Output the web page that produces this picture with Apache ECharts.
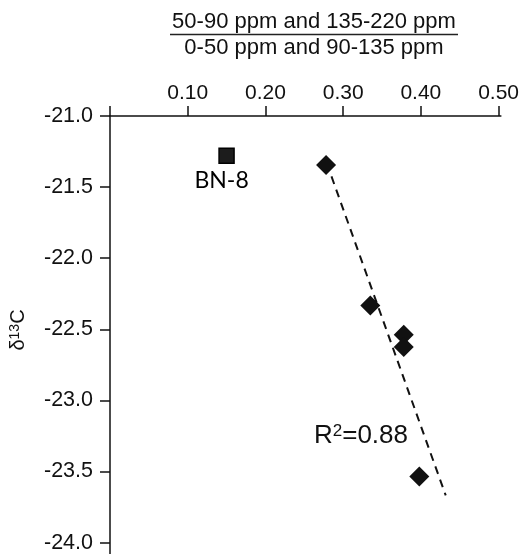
<!DOCTYPE html>
<html><head><meta charset="utf-8">
<script src="https://cdn.jsdelivr.net/npm/echarts@6/dist/echarts.min.js"></script>
<style>html,body{margin:0;padding:0;background:#fff}#c{width:522px;height:554px}</style>
</head><body><div id="c"></div>
<script>
const xTicks = [0, 0.1, 0.2, 0.3, 0.4, 0.5];
const yTicks = [-24.0, -23.5, -23.0, -22.5, -22.0, -21.5, -21.0];
const sampleX = [0.278, 0.335, 0.378, 0.378, 0.398];
const sampleY = [-21.345, -22.333, -22.539, -22.625, -23.535];
const outlierName = 'BN-8';
const outlierX = [0.150];
const outlierY = [-21.28];
const trendX = [0.285, 0.432];
const trendY = [-21.425, -23.668];
const r2Value = '0.88';
const titleTop = '50-90 ppm and 135-220 ppm';
const titleBottom = '0-50 ppm and 90-135 ppm';

const zip = (a, b) => a.map((v, i) => [v, b[i]]);
const AX = '#111';
const TXT = '#111';
const FONT = '"Liberation Sans", Arial, sans-serif';

const chart = echarts.init(document.getElementById('c'), null, {renderer: 'canvas'});
chart.setOption({
  animation: false,
  backgroundColor: '#fff',
  grid: {left: 109.5, top: 116, right: 11.6, bottom: 0, containLabel: false},
  xAxis: {
    type: 'value', position: 'top', min: 0, max: 0.503,
    axisLine: {onZero: false, lineStyle: {color: AX, width: 1.5}},
    axisTick: {show: true, length: 10, customValues: xTicks, lineStyle: {color: AX, width: 1.5}},
    axisLabel: {customValues: xTicks, margin: 12, fontFamily: FONT, fontSize: 21, color: TXT,
      formatter: v => (Math.abs(v) < 1e-9 ? '' : v.toFixed(2))},
    splitLine: {show: false}
  },
  yAxis: {
    type: 'value', min: -24.08, max: -21,
    name: '{a|δ}{s|13}{a|C}', nameLocation: 'middle', nameRotate: 90, nameGap: 82,
    nameTextStyle: {padding: [0, 0, 0, 10], rich: {
      a: {fontFamily: FONT, fontSize: 20, color: TXT},
      s: {fontFamily: FONT, fontSize: 14, color: TXT, verticalAlign: 'top'}
    }},
    axisLine: {onZero: false, lineStyle: {color: AX, width: 1.5}},
    axisTick: {show: true, length: 10, customValues: yTicks, lineStyle: {color: AX, width: 1.5}},
    axisLabel: {customValues: yTicks, margin: 17, fontFamily: FONT, fontSize: 21.5, color: TXT,
      formatter: v => v.toFixed(1)},
    splitLine: {show: false}
  },
  graphic: [
    {type: 'text', x: 314, y: 22, style: {text: titleTop, font: '22px ' + FONT, fill: TXT,
      align: 'center', verticalAlign: 'middle', textAlign: 'center', textVerticalAlign: 'middle'}},
    {type: 'line', shape: {x1: 170, y1: 34.5, x2: 458, y2: 34.5}, style: {stroke: '#222', lineWidth: 1.5}},
    {type: 'text', x: 314, y: 48, style: {text: titleBottom, font: '22px ' + FONT, fill: TXT,
      align: 'center', verticalAlign: 'middle', textAlign: 'center', textVerticalAlign: 'middle'}},
    {type: 'text', x: 314, y: 436, style: {
      text: '{a|R}{s|2}{a|=' + r2Value + '}',
      align: 'left', verticalAlign: 'middle', textAlign: 'left', textVerticalAlign: 'middle',
      rich: {
        a: {fontFamily: FONT, fontSize: 26, fill: TXT, color: TXT},
        s: {fontFamily: FONT, fontSize: 17, fill: TXT, color: TXT, verticalAlign: 'top'}
      }}}
  ],
  series: [
    {type: 'line', data: zip(trendX, trendY), symbol: 'none', z: 1,
      lineStyle: {type: [8, 6], color: '#111', width: 2}},
    {type: 'scatter', data: zip(sampleX, sampleY), symbol: 'diamond', symbolSize: 20, z: 3,
      itemStyle: {color: '#111', opacity: 1}},
    {type: 'scatter', data: zip(outlierX, outlierY), symbol: 'rect', symbolSize: 15, z: 3,
      itemStyle: {color: '#1c1c1c', borderColor: '#000', borderWidth: 1.5, opacity: 1},
      label: {show: true, formatter: outlierName, position: 'bottom', distance: 5, offset: [-5, 0],
        fontFamily: 'Lato, "Open Sans", sans-serif', fontSize: 23, color: '#000'}}
  ]
});
</script></body></html>
